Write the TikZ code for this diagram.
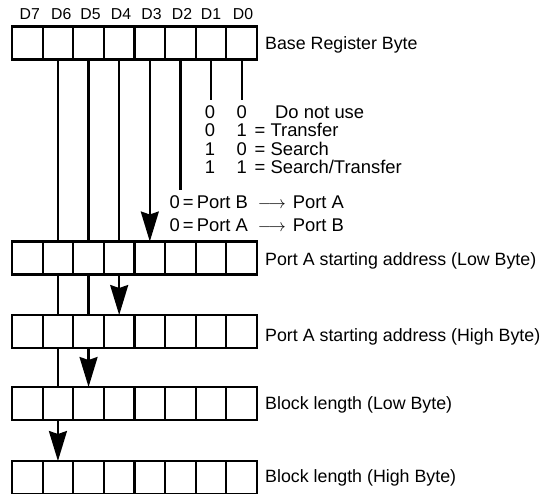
\documentclass[tikz,border=0pt]{standalone}
\usepackage{fontspec}
\setmainfont{Liberation Sans}
\usetikzlibrary{arrows.meta}
\begin{document}
\begin{tikzpicture}[x=1pt,y=-1pt,
  cell/.style={draw, line width=2.2pt, minimum width=30.625pt, minimum height=33pt, inner sep=0pt, outer sep=0pt},
  wire/.style={line width=2.2pt},
  arr/.style={line width=2.2pt, -{Stealth[length=30pt,width=18pt,inset=3pt]}},
  lbl/.style={anchor=base west, inner sep=0pt, font=\fontsize{17.8}{20}\selectfont},
  midlbl/.style={anchor=base west, inner sep=0pt, font=\fontsize{18.4}{20}\selectfont},
  bitlbl/.style={anchor=base, inner sep=0pt, font=\fontsize{15.8}{18}\selectfont},
  txt/.style={anchor=base, inner sep=0pt, font=\fontsize{18.4}{20}\selectfont}]
\clip (0,0) rectangle (554,493);

% registers
\foreach \r/\yt in {0/26.5, 1/241.5, 2/315, 3/387, 4/461} {
  \foreach \i in {0,...,7} {
    \node[cell] (r\r c\i) at ({12+30.625*(\i+0.5)}, {\yt+16.5}) {};
  }
}

% bit labels
\foreach \i/\t/\x in {0/D7/29.7, 1/D6/61.2, 2/D5/90.5, 3/D4/121, 4/D3/151.5, 5/D2/182, 6/D1/211, 7/D0/243} {
  \node[bitlbl] (d\i) at (\x, 19.6) {\t};
}

% register labels
\node[lbl] (lab0) at (265, 49.6) {Base Register Byte};
\node[lbl] (lab1) at (265, 265) {Port A starting address (Low Byte)};
\node[lbl] (lab2) at (265, 341) {Port A starting address (High Byte)};
\node[lbl] (lab3) at (265, 409) {Block length (Low Byte)};
\node[lbl] (lab4) at (265, 482) {Block length (High Byte)};

% free ends
\path (r0c5.south) ++(0,130.5) coordinate (e5);
\path (r0c6.south) ++(0,40.5) coordinate (e6);
\path (r0c7.south) ++(0,40.5) coordinate (e7);

% connectors from base register
\draw[wire] (r0c1.south) -- (r1c1.north);
\draw[wire] (r0c2.south) -- (r1c2.north);
\draw[wire] (r0c3.south) -- (r1c3.north);
\draw[arr]  (r0c4.south) -- (r1c4.north);
\draw[wire] (r0c5.south) -- (e5);
\draw[wire] (r0c6.south) -- (e6);
\draw[wire] (r0c7.south) -- (e7);

% low byte -> high byte
\draw[wire] (r1c1.south) -- (r2c1.north);
\draw[wire] (r1c2.south) -- (r2c2.north);
\draw[arr]  (r1c3.south) -- (r2c3.north);

% high byte -> block low
\draw[wire] (r2c1.south) -- (r3c1.north);
\draw[arr]  (r2c2.south) -- (r3c2.north);

% block low -> block high
\draw[arr]  (r3c1.south) -- (r4c1.north);

% mode table
\node[txt] (m1a) at (210,118) {0};
\node[txt] (m1b) at (241.7,118) {0};
\node[midlbl] (m1t) at (275,118) {Do not use};
\node[txt] (m2a) at (210,136.5) {0};
\node[txt] (m2b) at (241.7,136.5) {1};
\node[midlbl] (m2t) at (254.5,136.5) {= Transfer};
\node[txt] (m3a) at (210,155) {1};
\node[txt] (m3b) at (241.7,155) {0};
\node[midlbl] (m3t) at (254.5,155) {= Search};
\node[txt] (m4a) at (210,173.5) {1};
\node[txt] (m4b) at (241.7,173.5) {1};
\node[midlbl] (m4t) at (254.5,173.5) {= Search/Transfer};

% direction
\node[midlbl] (dir1) at (169.5,208.5) {0\,=\,Port B\hspace{10pt}$\longrightarrow$\hspace{7pt}Port A};
\node[midlbl] (dir2) at (169.5,231) {0\,=\,Port A\hspace{10pt}$\longrightarrow$\hspace{7pt}Port B};
\end{tikzpicture}
\end{document}
